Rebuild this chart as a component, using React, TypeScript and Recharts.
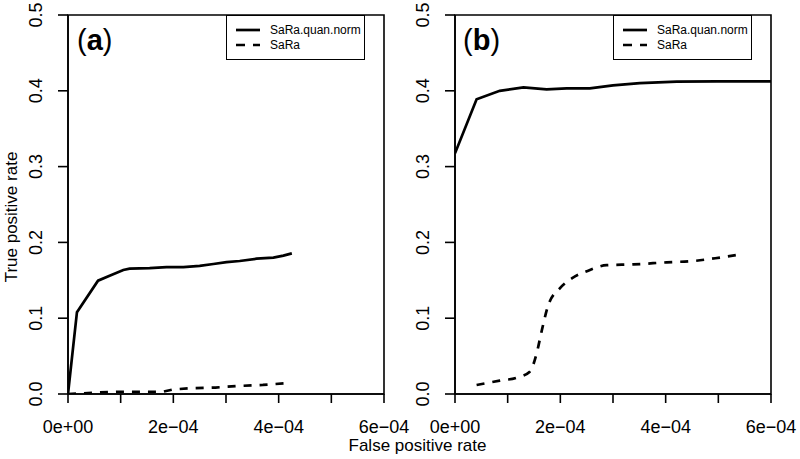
import { Legend, Line, LineChart, ReferenceArea, XAxis, YAxis } from 'recharts';

const FONT = '"Liberation Sans", Arial, Helvetica, sans-serif';

// axis ticks
const xTicks = [0, 1e-4, 2e-4, 3e-4, 4e-4, 5e-4, 6e-4];
const xTickLabels = ['0e+00', '', '2e\u221204', '', '4e\u221204', '', '6e\u221204'];
const yTicks = [0, 0.1, 0.2, 0.3, 0.4, 0.5];
const yTickLabels = ['0.0', '0.1', '0.2', '0.3', '0.4', '0.5'];

const seriesNames = ['SaRa.quan.norm', 'SaRa'];
const panelTags = ['a', 'b'];

// panel (a)
const aQuanFpr = [0, 0.17e-4, 0.57e-4, 0.79e-4, 1.05e-4, 1.17e-4, 1.55e-4, 1.87e-4, 2.19e-4, 2.5e-4, 2.76e-4, 3.01e-4, 3.26e-4, 3.58e-4, 3.9e-4, 4.09e-4, 4.25e-4];
const aQuanTpr = [0, 0.108, 0.1495, 0.156, 0.1636, 0.1653, 0.166, 0.1675, 0.1675, 0.169, 0.1715, 0.174, 0.1755, 0.1785, 0.18, 0.1825, 0.1855];
const aRawFpr = [0, 0.3e-4, 0.6e-4, 1.0e-4, 1.5e-4, 1.8e-4, 2.0e-4, 2.3e-4, 2.8e-4, 3.2e-4, 3.7e-4, 4.2e-4];
const aRawTpr = [0, 0.001, 0.002, 0.003, 0.003, 0.003, 0.006, 0.0075, 0.0085, 0.0105, 0.012, 0.0145];

// panel (b)
const bQuanFpr = [0, 0.41e-4, 0.85e-4, 1.3e-4, 1.74e-4, 2.12e-4, 2.56e-4, 3.0e-4, 3.51e-4, 4.21e-4, 4.97e-4, 6e-4];
const bQuanTpr = [0.3175, 0.3888, 0.4, 0.4046, 0.402, 0.4033, 0.4033, 0.4072, 0.41, 0.412, 0.4125, 0.4125];
const bRawFpr = [0.41e-4, 0.85e-4, 1.17e-4, 1.42e-4, 1.55e-4, 1.65e-4, 1.77e-4, 1.99e-4, 2.24e-4, 2.53e-4, 2.88e-4, 3.39e-4, 4.02e-4, 4.53e-4, 5.03e-4, 5.47e-4];
const bRawTpr = [0.0119, 0.0176, 0.0215, 0.0295, 0.0536, 0.0844, 0.117, 0.1394, 0.1535, 0.1627, 0.17, 0.171, 0.1737, 0.1755, 0.18, 0.1847];

const zip = (xs: number[], ys: number[]) => xs.map((x, i) => ({ fpr: x, tpr: ys[i] }));

function YTick({ x, y, payload }: any) {
  const i = yTicks.indexOf(payload.value);
  return (
    <text
      transform={`translate(${x - 14},${y}) rotate(-90)`}
      textAnchor="middle"
      fontSize={18}
      fontFamily={FONT}
      fill="#000"
    >
      {i >= 0 ? yTickLabels[i] : Number(payload.value).toFixed(1)}
    </text>
  );
}

function LegendBox() {
  return (
    <div
      style={{
        width: 139,
        height: 45,
        boxSizing: 'border-box',
        border: '1.6px solid #000',
        background: '#fff',
        fontFamily: FONT,
        fontSize: 12,
        color: '#000',
        paddingTop: 6.5,
      }}
    >
      {seriesNames.map((name, i) => (
        <div key={name} style={{ display: 'flex', alignItems: 'center', height: 15 }}>
          <svg width={24} height={4} style={{ marginLeft: 9 }}>
            <line x1={0} y1={2} x2={24} y2={2} stroke="#000" strokeWidth={2.7} strokeDasharray={i ? '9 8' : undefined} />
          </svg>
          <span style={{ marginLeft: 10, lineHeight: '15px' }}>{name}</span>
        </div>
      ))}
    </div>
  );
}

type PanelProps = {
  left: number;
  width: number;
  yAxisWidth: number;
  rightMargin: number;
  legendLeft: number;
  quan: Array<{ fpr: number; tpr: number }>;
  raw: Array<{ fpr: number; tpr: number }>;
  rawCurve: 'linear' | 'monotone';
};

function Panel({ left, width, yAxisWidth, rightMargin, legendLeft, quan, raw, rawCurve }: PanelProps) {
  return (
    <div style={{ position: 'absolute', left, top: 0 }}>
      <LineChart width={width} height={459} margin={{ top: 15, right: rightMargin, bottom: 0, left: 0 }}>
        <XAxis
          dataKey="fpr"
          type="number"
          domain={[0, 6e-4]}
          ticks={xTicks}
          allowDataOverflow
          height={65}
          tickSize={9}
          tickMargin={17}
          tickFormatter={(v: number) => xTickLabels[xTicks.indexOf(v)] ?? ''}
          tick={{ fill: '#000', fontSize: 18, fontFamily: FONT }}
          axisLine={{ stroke: '#000', strokeWidth: 1.6 }}
          tickLine={{ stroke: '#000', strokeWidth: 1.6 }}
          interval={0}
        />
        <YAxis
          dataKey="tpr"
          type="number"
          domain={[0, 0.5]}
          ticks={yTicks}
          allowDataOverflow
          width={yAxisWidth}
          tickSize={10}
          tickMargin={2}
          tick={<YTick />}
          axisLine={{ stroke: '#000', strokeWidth: 1.6 }}
          tickLine={{ stroke: '#000', strokeWidth: 1.6 }}
          interval={0}
        />
        <ReferenceArea x1={0} x2={6e-4} y1={0} y2={0.5} fill="none" stroke="#000" strokeWidth={1.6} ifOverflow="visible" />
        <Line
          data={quan}
          dataKey="tpr"
          type="linear"
          stroke="#000"
          strokeWidth={2.7}
          dot={false}
          isAnimationActive={false}
        />
        <Line
          data={raw}
          dataKey="tpr"
          type={rawCurve}
          stroke="#000"
          strokeWidth={2.7}
          strokeDasharray="8 8"
          dot={false}
          isAnimationActive={false}
        />
        <Legend
          layout="vertical"
          align="center"
          verticalAlign="middle"
          content={() => <LegendBox />}
          wrapperStyle={{ left: legendLeft, top: 15, width: 139, right: 'auto', bottom: 'auto' }}
        />
      </LineChart>
    </div>
  );
}

export default function App() {
  return (
    <div style={{ position: 'absolute', left: 0, top: 0, width: 800, height: 459, background: '#fff' }}>
      <Panel
        left={0}
        width={430}
        yAxisWidth={68}
        rightMargin={46}
        legendLeft={226}
        quan={zip(aQuanFpr, aQuanTpr)}
        raw={zip(aRawFpr, aRawTpr)}
        rawCurve="linear"
      />
      <Panel
        left={390}
        width={410}
        yAxisWidth={65}
        rightMargin={29}
        legendLeft={223}
        quan={zip(bQuanFpr, bQuanTpr)}
        raw={zip(bRawFpr, bRawTpr)}
        rawCurve="monotone"
      />
      <svg width={800} height={459} style={{ position: 'absolute', left: 0, top: 0, pointerEvents: 'none' }}>
        {panelTags.map((tag, i) => (
          <text key={tag} x={i === 0 ? 77 : 463} y={49.5} fontSize={29} fontFamily={FONT} fill="#000">
            <tspan>(</tspan>
            <tspan fontWeight="bold">{tag}</tspan>
            <tspan>)</tspan>
          </text>
        ))}
        <text transform="translate(17,217) rotate(-90)" textAnchor="middle" fontSize={17} fontFamily={FONT} fill="#000">
          True positive rate
        </text>
        <text x={417.5} y={451} textAnchor="middle" fontSize={17} fontFamily={FONT} fill="#000">
          False positive rate
        </text>
      </svg>
    </div>
  );
}
